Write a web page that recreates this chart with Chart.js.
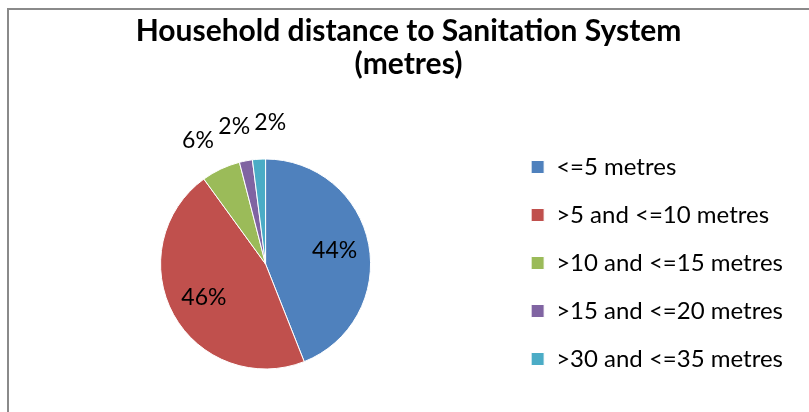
<!DOCTYPE html>
<html lang="en">
<head>
<meta charset="UTF-8">
<title>Household distance to Sanitation System</title>
<script src="https://cdn.jsdelivr.net/npm/chart.js"></script>
<style>
  html, body { margin: 0; padding: 0; background: #fff; }
  .wrap { position: relative; width: 809px; height: 412px; overflow: hidden; }
  /* grey chart frame, only top and left edges fall inside the window */
  .frame { position: absolute; left: 7px; top: 8px; right: -10px; bottom: -10px;
           border-top: 2px solid #8a8a8a; border-left: 2px solid #8a8a8a; }
  canvas { position: absolute; left: 0; top: 0; }
</style>
</head>
<body>
<div class="wrap">
  <div class="frame"></div>
  <canvas id="distChart" width="809" height="412"></canvas>
</div>

<script>
  const categories = ['<=5 metres', '>5 and <=10 metres', '>10 and <=15 metres', '>15 and <=20 metres', '>30 and <=35 metres'];
  const shares = [44, 46, 6, 2, 2];
  const sliceColours = ['#4F81BD', '#C0504D', '#9BBB59', '#8064A2', '#4BACC6'];
  const titleLines = ['Household distance to Sanitation System', '(metres)'];

  const FONT = 'Lato, "Open Sans", sans-serif';

  // percentage labels: big slices get them inside, small ones just outside the rim
  const pctLabels = {
    id: 'pctLabels',
    afterDatasetsDraw(chart) {
      const ctx = chart.ctx;
      const meta = chart.getDatasetMeta(0);
      const total = shares.reduce((a, b) => a + b, 0);
      ctx.save();
      ctx.font = '23px ' + FONT;
      ctx.fillStyle = '#000';
      ctx.textAlign = 'center';
      ctx.textBaseline = 'middle';
      const outside = [];
      meta.data.forEach((arc, i) => {
        const p = arc.getProps(['x', 'y', 'startAngle', 'endAngle', 'outerRadius'], true);
        const mid = (p.startAngle + p.endAngle) / 2;
        const text = Math.round(shares[i] / total * 100) + '%';
        if (shares[i] / total >= 0.1) {
          const r = p.outerRadius * 0.67;
          ctx.fillText(text, p.x + Math.cos(mid) * r, p.y + Math.sin(mid) * r);
        } else {
          outside.push({ text, a: mid, cx: p.x, cy: p.y, r: p.outerRadius + 36, w: ctx.measureText(text).width });
        }
      });
      const pos = l => [l.cx + Math.cos(l.a) * l.r, l.cy + Math.sin(l.a) * l.r];
      // spread neighbours around the rim until they stop overlapping
      for (let it = 0; it < 400; it++) {
        let moved = false;
        for (let i = 0; i < outside.length - 1; i++) {
          const [x1, y1] = pos(outside[i]);
          const [x2, y2] = pos(outside[i + 1]);
          if (Math.abs(x1 - x2) < (outside[i].w + outside[i + 1].w) / 2 + 4 && Math.abs(y1 - y2) < 26) {
            outside[i].a -= 0.004;
            outside[i + 1].a += 0.004;
            moved = true;
          }
        }
        if (!moved) break;
      }
      outside.forEach(l => {
        const [x, y] = pos(l);
        ctx.fillText(l.text, x, y);
      });
      ctx.restore();
    }
  };

  new Chart(document.getElementById('distChart'), {
    type: 'pie',
    data: {
      labels: categories,
      datasets: [{
        data: shares,
        backgroundColor: sliceColours,
        borderColor: '#fff',
        borderWidth: 1,
        radius: 105
      }]
    },
    options: {
      responsive: false,
      animation: false,
      events: [],
      layout: { padding: { left: 24, right: 16, top: 0, bottom: 17 } },
      plugins: {
        title: {
          display: true,
          text: titleLines,
          color: '#000',
          font: { family: FONT, size: 30, weight: 'bold', lineHeight: 1.1 },
          padding: { top: 15, bottom: 52 }
        },
        legend: {
          position: 'right',
          align: 'end',
          labels: {
            color: '#000',
            font: { family: FONT, size: 24 },
            boxWidth: 13,
            boxHeight: 13,
            padding: 24
          }
        },
        tooltip: { enabled: false }
      }
    },
    plugins: [pctLabels]
  });
</script>
</body>
</html>
